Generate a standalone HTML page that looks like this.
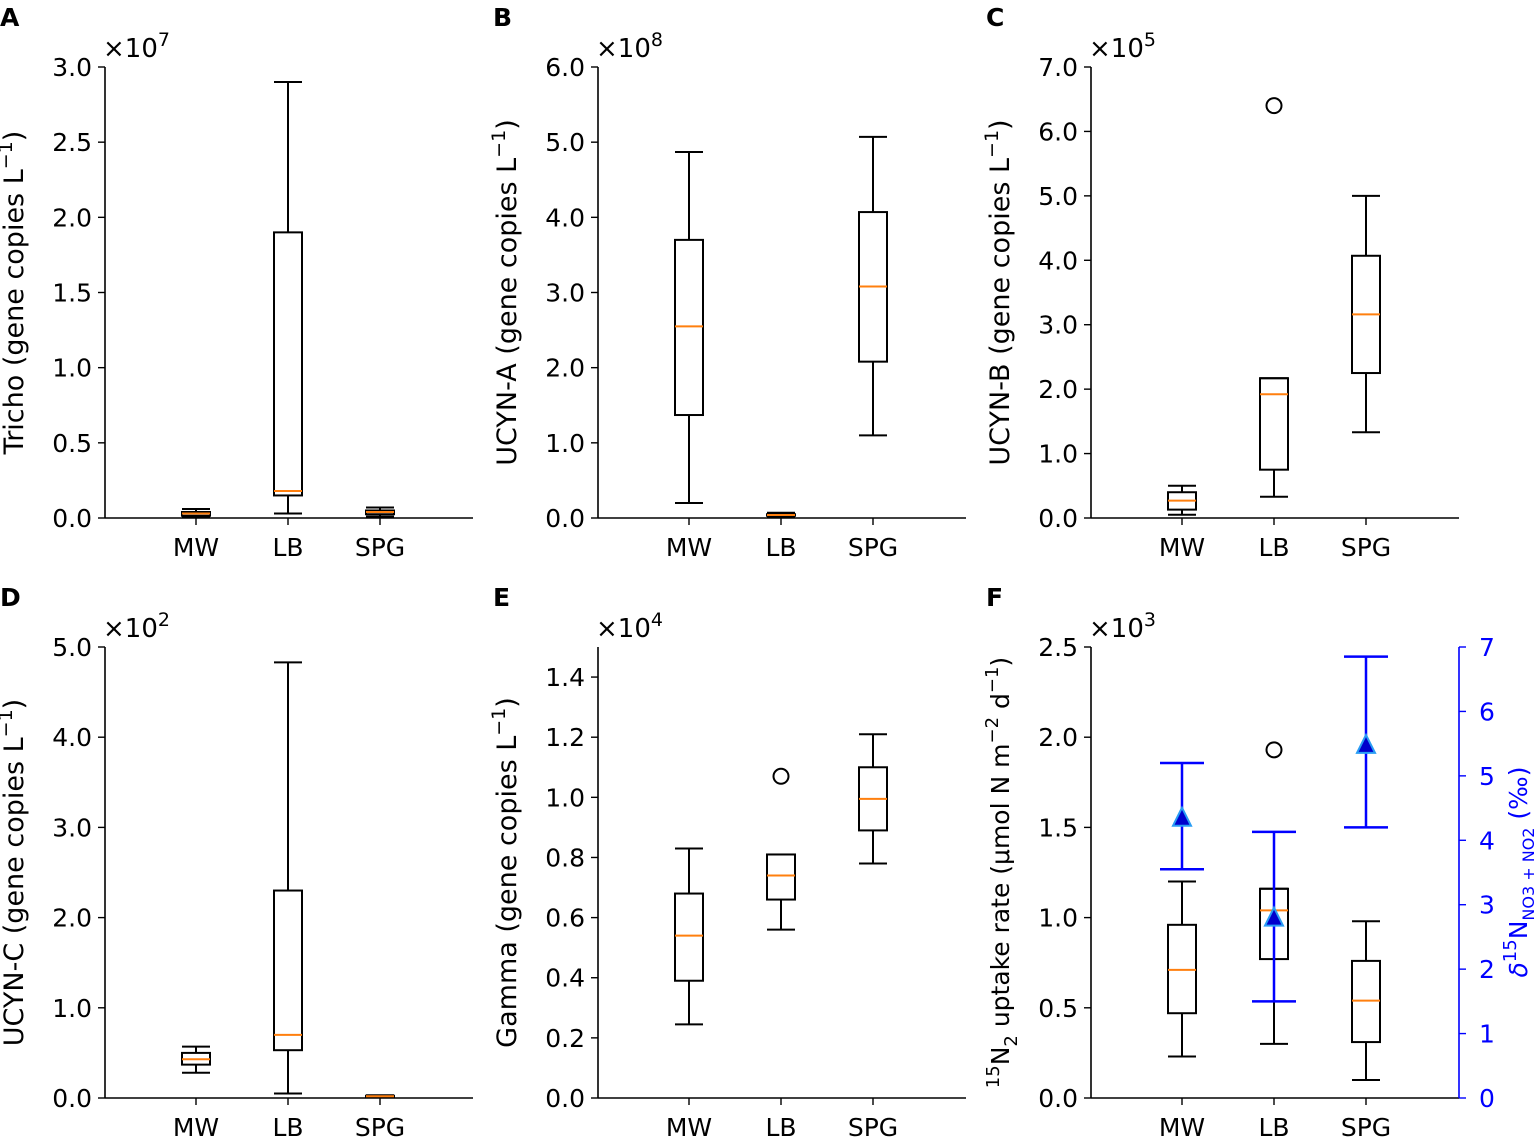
<!DOCTYPE html>
<html><head><meta charset="utf-8"><style>body{margin:0;background:#fff}svg{display:block}text{font-family:"DejaVu Sans","Liberation Sans",sans-serif}</style></head>
<body>
<svg id="s" width="1535" height="1141" xmlns="http://www.w3.org/2000/svg"></svg>
<script>
const S=document.getElementById('s');let h='';
const cx=[91,183,275];
function panel(x0,y0,ymax,ticks,fmt,exp,label,letter,boxes,lsize){
 const L=x0,R=x0+368,B=y0+451,T=y0;
 const Y=v=>B-v/ymax*451;
 h+=`<text x="${L-105}" y="${T-41}" font-size="25" font-weight="bold">${letter}</text>`;
 h+=`<text x="${L-2}" y="${T-10}" font-size="26">×10<tspan dy="-11" font-size="19">${exp}</tspan></text>`;
 h+=`<line x1="${L}" y1="${T}" x2="${L}" y2="${B}" stroke="#000" stroke-width="1.6"/><line x1="${L}" y1="${B}" x2="${R}" y2="${B}" stroke="#000" stroke-width="1.6"/>`;
 ticks.forEach(v=>{const y=Y(v);h+=`<line x1="${L-7}" y1="${y}" x2="${L}" y2="${y}" stroke="#000" stroke-width="1.4"/><text x="${L-13}" y="${y+9}" font-size="25" text-anchor="end">${v.toFixed(fmt)}</text>`;});
 ['MW','LB','SPG'].forEach((n,i)=>{const x=L+cx[i];h+=`<line x1="${x}" y1="${B}" x2="${x}" y2="${B+7}" stroke="#000" stroke-width="1.4"/><text x="${x}" y="${B+38}" font-size="25" text-anchor="middle">${n}</text>`;});
 h+=`<text transform="translate(${L-82},${(T+B)/2}) rotate(-90)" font-size="${lsize||27}" text-anchor="middle">${label}</text>`;
 boxes.forEach((b,i)=>{if(!b)return;const x=L+cx[i];const [mn,q1,md,q3,mx,out]=b.map(v=>v==null?null:Y(v));
  h+=`<g stroke="#000" stroke-width="2" fill="none"><line x1="${x}" y1="${mx}" x2="${x}" y2="${q3}"/><line x1="${x}" y1="${q1}" x2="${x}" y2="${mn}"/><line x1="${x-14}" y1="${mx}" x2="${x+14}" y2="${mx}"/><line x1="${x-14}" y1="${mn}" x2="${x+14}" y2="${mn}"/><rect x="${x-14}" y="${q3}" width="28" height="${q1-q3}"/></g><line x1="${x-14}" y1="${md}" x2="${x+14}" y2="${md}" stroke="#ff7f0e" stroke-width="2"/>`;
  if(out!=null)h+=`<circle cx="${x}" cy="${out}" r="7.5" fill="none" stroke="#000" stroke-width="2"/>`;});
}
const g=n=>`${n} (gene copies L<tspan dy="-11" font-size="19">−1</tspan><tspan dy="11">)</tspan>`;
panel(105,67,3,[0,0.5,1,1.5,2,2.5,3],1,7,g('Tricho'),'A',[[0.005,0.015,0.03,0.04,0.06],[0.03,0.15,0.18,1.9,2.9],[0.01,0.025,0.04,0.05,0.07]]);
panel(598,67,6,[0,1,2,3,4,5,6],1,8,g('UCYN-A'),'B',[[0.2,1.37,2.55,3.7,4.87],[0.01,0.03,0.04,0.05,0.07],[1.1,2.08,3.08,4.07,5.07]]);
panel(1091,67,7,[0,1,2,3,4,5,6,7],1,5,g('UCYN-B'),'C',[[0.05,0.13,0.27,0.4,0.5],[0.33,0.75,1.92,2.17,2.17,6.4],[1.33,2.25,3.16,4.07,5.0]]);
panel(105,647,5,[0,1,2,3,4,5],1,2,g('UCYN-C'),'D',[[0.28,0.37,0.43,0.5,0.57],[0.05,0.53,0.7,2.3,4.83],[0.01,0.015,0.02,0.025,0.03]]);
panel(598,647,1.5,[0,0.2,0.4,0.6,0.8,1,1.2,1.4],1,4,g('Gamma'),'E',[[0.245,0.39,0.54,0.68,0.83],[0.56,0.66,0.74,0.81,0.81,1.07],[0.78,0.89,0.995,1.1,1.21]]);
panel(1091,647,2.5,[0,0.5,1,1.5,2,2.5],1,3,'<tspan dy="-10" font-size="18">15</tspan><tspan dy="10">N</tspan><tspan dy="8" font-size="18">2</tspan><tspan dy="-8"> uptake rate (μmol N m</tspan><tspan dy="-11" font-size="18">−2</tspan><tspan dy="11"> d</tspan><tspan dy="-11" font-size="18">−1</tspan><tspan dy="11">)</tspan>','F',[[0.23,0.47,0.71,0.96,1.2],[0.3,0.77,1.04,1.16,1.16,1.93],[0.1,0.31,0.54,0.76,0.98]],25);
{const X=1459,B=1098,Y=v=>B-v/7*451;
 h+=`<line x1="${X}" y1="647" x2="${X}" y2="${B}" stroke="#00f" stroke-width="1.6"/>`;
 for(let v=0;v<=7;v++){const y=Y(v);h+=`<line x1="${X}" y1="${y}" x2="${X+7}" y2="${y}" stroke="#00f" stroke-width="1.4"/><text x="${X+20}" y="${y+9}" font-size="25" fill="#00f">${v}</text>`;}
 h+=`<text transform="translate(1527,872) rotate(-90)" font-size="25" fill="#00f" text-anchor="middle"><tspan font-style="italic">δ</tspan><tspan dy="-11" font-size="18">15</tspan><tspan dy="11">N</tspan><tspan dy="7" font-size="16">NO3 + NO2</tspan><tspan dy="-7"> (‰)</tspan></text>`;
 [[1182,4.35,5.2,3.55],[1274,2.8,4.13,1.5],[1366,5.48,6.85,4.2]].forEach(([x,c,t,b])=>{
  h+=`<g stroke="#00f" stroke-width="2.5"><line x1="${x}" y1="${Y(t)}" x2="${x}" y2="${Y(b)}"/><line x1="${x-22}" y1="${Y(t)}" x2="${x+22}" y2="${Y(t)}"/><line x1="${x-22}" y1="${Y(b)}" x2="${x+22}" y2="${Y(b)}"/></g>`;
  const y=Y(c);h+=`<polygon points="${x},${y-10} ${x-9},${y+8} ${x+9},${y+8}" fill="#0000cc" stroke="#2a9df4" stroke-width="2"/>`;});
}
S.innerHTML=h;
</script>
</body></html>
